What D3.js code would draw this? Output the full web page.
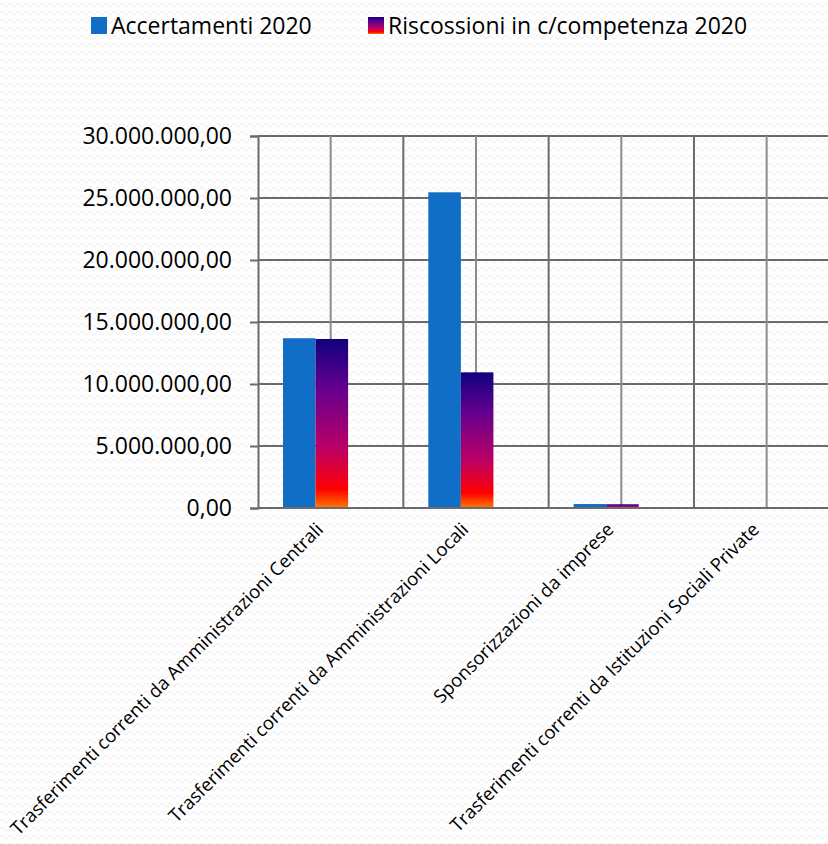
<!DOCTYPE html>
<html>
<head>
<meta charset="utf-8">
<script src="https://cdn.jsdelivr.net/npm/d3@7"></script>
<style>
  body { margin: 0; background: #fff; }
  svg { display: block; font-family: "Open Sans", sans-serif; }
</style>
</head>
<body>
<script>
var categories = ['Trasferimenti correnti da Amministrazioni Centrali',
  'Trasferimenti correnti da Amministrazioni Locali',
  'Sponsorizzazioni da imprese',
  'Trasferimenti correnti da Istituzioni Sociali Private'];
var series = ['Accertamenti 2020', 'Riscossioni in c/competenza 2020'];
var accertamenti = [13690000, 25460000, 320000, 0];
var riscossioni = [13630000, 10940000, 300000, 0];
var y_ticks = [0, 5000000, 10000000, 15000000, 20000000, 25000000, 30000000];

var width = 828, height = 844;
var left = 258, right = 839.3, top_y = 136, bottom = 508;

var svg = d3.select('body').append('svg').attr('width', width).attr('height', height);
var defs = svg.append('defs');

// wavy background texture
var pat = defs.append('pattern').attr('id', 'wave').attr('patternUnits', 'userSpaceOnUse')
  .attr('width', 8).attr('height', 8);
pat.append('path').attr('d', 'M0,5 Q2,1 4,5 T8,5').attr('fill', 'none')
  .attr('stroke', '#ececec').attr('stroke-width', 1);
svg.append('rect').attr('width', width).attr('height', height).attr('fill', 'url(#wave)');

// fire gradient for the second series
var grad = defs.append('linearGradient').attr('id', 'fire')
  .attr('x1', 0).attr('y1', 0).attr('x2', 0).attr('y2', 1);
[[0, '#10007f'], [0.3, '#66008f'], [0.645, '#ba0066'], [0.89, '#ff0000'], [1, '#ff7a00']]
  .forEach(function(s) { grad.append('stop').attr('offset', s[0]).attr('stop-color', s[1]); });

var x0 = d3.scaleBand().domain(d3.range(categories.length)).range([left, right]).padding(0);
var cw = x0.bandwidth();
var x1 = d3.scaleBand().domain(series).range([cw * 0.172, cw * 0.62]).padding(0);
var y = d3.scaleLinear().domain([0, 30000000]).range([bottom, top_y]);

var fmt = function(v) {
  return d3.format(',.2f')(v).replace(/,/g, '#').replace('.', ',').replace(/#/g, '.');
};

// grid
var grid = svg.append('g');
grid.selectAll('line.h').data(y_ticks.slice(1)).enter().append('line')
  .attr('x1', left).attr('x2', width).attr('y1', d => y(d)).attr('y2', d => y(d))
  .attr('stroke', '#6b6b6b').attr('stroke-width', 2);
grid.selectAll('line.vc').data(d3.range(categories.length)).enter().append('line')
  .attr('x1', d => x0(d) + cw / 2).attr('x2', d => x0(d) + cw / 2)
  .attr('y1', top_y).attr('y2', bottom)
  .attr('stroke', '#8c8c8c').attr('stroke-width', 2);
grid.selectAll('line.vb').data(d3.range(1, categories.length)).enter().append('line')
  .attr('x1', d => x0(d)).attr('x2', d => x0(d))
  .attr('y1', top_y).attr('y2', bottom)
  .attr('stroke', '#6b6b6b').attr('stroke-width', 2);

// bars
var groups = svg.selectAll('g.cat').data(categories).enter().append('g')
  .attr('transform', (d, i) => 'translate(' + x0(i) + ',0)');
groups.append('rect')
  .attr('x', x1(series[0])).attr('width', x1.bandwidth())
  .attr('y', (d, i) => y(accertamenti[i])).attr('height', (d, i) => bottom - y(accertamenti[i]))
  .attr('fill', '#106ec6');
groups.append('rect')
  .attr('x', x1(series[1])).attr('width', x1.bandwidth())
  .attr('y', (d, i) => y(riscossioni[i])).attr('height', (d, i) => bottom - y(riscossioni[i]))
  .attr('fill', 'url(#fire)');

// y axis
var yAxis = svg.append('g').attr('transform', 'translate(' + left + ',0)')
  .call(d3.axisLeft(y).tickValues(y_ticks).tickFormat(fmt).tickSize(8).tickPadding(18));
yAxis.select('.domain').attr('stroke', '#6b6b6b').attr('stroke-width', 2);
yAxis.selectAll('.tick line').attr('stroke', '#6b6b6b').attr('stroke-width', 2);
yAxis.selectAll('.tick text').attr('font-size', '23px').attr('fill', '#000')
  .attr('font-family', '"Open Sans", sans-serif');

// x axis line
svg.append('line').attr('x1', left).attr('x2', width).attr('y1', bottom).attr('y2', bottom)
  .attr('stroke', '#6b6b6b').attr('stroke-width', 2);

// category labels
svg.selectAll('text.cat').data(categories).enter().append('text')
  .attr('transform', (d, i) => 'translate(' + (x0(i) + cw / 2 - 11) + ',' + (bottom + 18) + ') rotate(-45)')
  .attr('text-anchor', 'end').attr('dy', '0.35em')
  .attr('font-size', '18.5px').attr('fill', '#000').text(d => d);

// legend
var legend_x = [91, 368];
var leg = svg.selectAll('g.leg').data(series).enter().append('g')
  .attr('transform', (d, i) => 'translate(' + legend_x[i] + ',17)');
leg.append('rect').attr('width', 16).attr('height', 17)
  .attr('fill', (d, i) => i === 0 ? '#106ec6' : 'url(#fire)');
leg.append('text').attr('x', 20).attr('y', 17).attr('font-size', '23px').attr('fill', '#000')
  .text(d => d);
</script>
</body>
</html>
